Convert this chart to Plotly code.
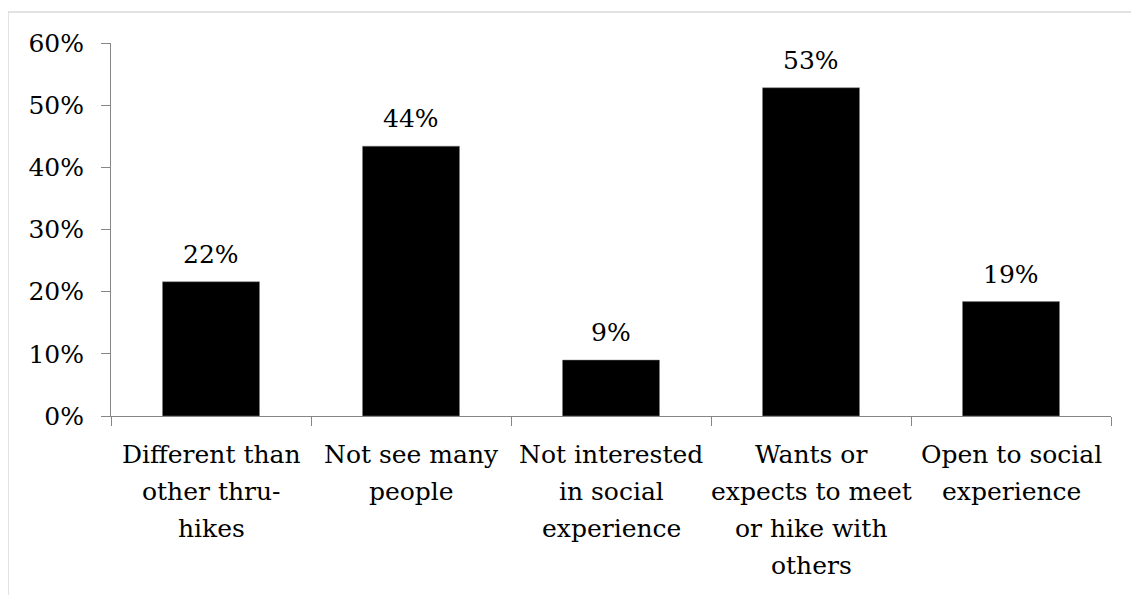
import plotly.graph_objects as go

categories = [
    ["Different than", "other thru-", "hikes"],
    ["Not see many", "people"],
    ["Not interested", "in social", "experience"],
    ["Wants or", "expects to meet", "or hike with", "others"],
    ["Open to social", "experience"],
]
values = [0.216, 0.434, 0.090, 0.528, 0.184]
value_labels = ["22%", "44%", "9%", "53%", "19%"]
y_ticks = [0, 0.1, 0.2, 0.3, 0.4, 0.5, 0.6]
y_tick_labels = ["0%", "10%", "20%", "30%", "40%", "50%", "60%"]

FONT = "DejaVu Serif"
SIZE = 25
AXIS_COLOR = "#868686"

cat_keys = [" ".join(c) for c in categories]

fig = go.Figure()
fig.add_trace(go.Bar(
    x=cat_keys,
    y=values,
    marker=dict(color="black", line=dict(color="#7f7f7f", width=0.5)),
    width=0.485,
    hoverinfo="skip",
))

for c, v, t in zip(cat_keys, values, value_labels):
    fig.add_annotation(
        x=c, y=v, text=t, showarrow=False, yanchor="bottom",
        yshift=11, font=dict(family=FONT, size=SIZE, color="black"),
    )

# category labels, one annotation per line (37px line pitch)
for key, lines in zip(cat_keys, categories):
    for i, line in enumerate(lines):
        fig.add_annotation(
            x=key, xref="x", y=0, yref="paper", text=line, showarrow=False,
            yanchor="middle", yshift=-(38 + 37 * i),
            font=dict(family=FONT, size=SIZE, color="black"),
        )

fig.add_shape(
    type="rect", xref="paper", yref="paper",
    x0=-0.103, x1=1.2, y0=-1.0, y1=1.0831,
    line=dict(color="#d9d9d9", width=1.5), fillcolor="rgba(0,0,0,0)",
    layer="below",
)

fig.update_layout(
    width=1139, height=595,
    margin=dict(l=103, r=36, t=35, b=187),
    paper_bgcolor="white", plot_bgcolor="white",
    showlegend=False,
    font=dict(family=FONT, size=SIZE, color="black"),
    xaxis=dict(
        showline=True, linecolor=AXIS_COLOR, linewidth=1,
        ticks="outside", tickson="boundaries", ticklen=9, tickcolor=AXIS_COLOR,
        showticklabels=False,
        showgrid=False, zeroline=False,
    ),
    yaxis=dict(
        range=[0, 0.6], tickvals=y_ticks, ticktext=y_tick_labels,
        showline=True, linecolor=AXIS_COLOR, linewidth=1,
        ticks="outside", ticklen=9, tickcolor=AXIS_COLOR,
        ticklabelstandoff=12,
        tickfont=dict(family=FONT, size=SIZE, color="black"),
        showgrid=False, zeroline=False,
    ),
)

fig.write_html("out.html")
